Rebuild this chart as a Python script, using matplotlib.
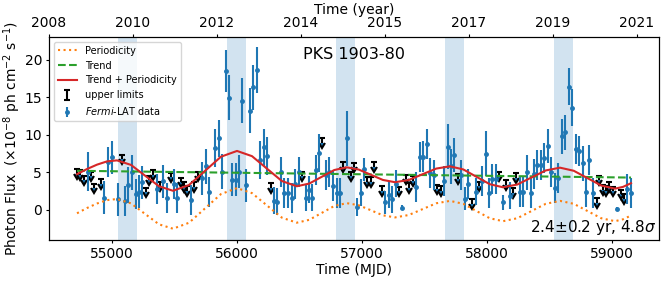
import numpy as np
import matplotlib.pyplot as plt

plt.rcParams['font.size'] = 10
plt.rcParams['xtick.major.size'] = 2.5
plt.rcParams['ytick.major.size'] = 2.5
plt.rcParams['xtick.major.pad'] = 2.5
plt.rcParams['ytick.major.pad'] = 2.5

# ---- Fermi-LAT detections (MJD, flux, 1-sigma error)
det_mjd = [54806, 54938, 54970, 55002, 55050, 55104, 55130, 55162, 55190, 55216,
           55242, 55358, 55410, 55442, 55498, 55522, 55630, 55718, 55750, 55776,
           55824, 55856, 55882, 55910, 55936, 55962, 55990, 56016, 56042, 56070,
           56104, 56130, 56158, 56184, 56216, 56242, 56296, 56322, 56352, 56378,
           56406, 56438, 56464, 56496, 56550, 56576, 56602, 56630, 56656, 56712,
           56738, 56766, 56798, 56824, 56878, 56962, 56990, 57016, 57184, 57214,
           57242, 57270, 57322, 57432, 57464, 57490, 57518, 57544, 57576, 57656,
           57686, 57712, 57738, 57792, 57824, 57850, 57910, 57962, 57990, 58016,
           58042, 58070, 58128, 58182, 58262, 58290, 58320, 58348, 58376, 58402,
           58430, 58456, 58486, 58512, 58540, 58568, 58596, 58624, 58652, 58680,
           58708, 58734, 58766, 58792, 58818, 58846, 59038, 59122, 59152]
det_flux = [5.1, 1.6, 6.4, 7.0, 1.4, 1.2, 3.3, 5.0, 2.1, 2.4,
            3.7, 2.8, 3.8, 1.6, 3.5, 1.6, 1.3, 4.2, 5.8, 2.4,
            8.2, 9.5, 5.1, 18.5, 14.9, 4.0, 4.0, 5.1, 14.5, 3.3,
            13.2, 16.3, 18.6, 6.6, 8.3, 7.2, 1.2, 1.1, 5.1, 2.2,
            2.2, 1.6, 3.5, 5.1, 1.6, 2.7, 1.6, 5.3, 7.6, 4.6,
            5.1, 3.2, 2.3, 2.3, 9.5, 0.4, 2.3, 5.4, 1.0, 2.0,
            1.4, 3.5, 0.3, 3.1, 7.0, 7.1, 8.8, 4.9, 4.6, 3.8,
            8.4, 5.8, 7.3, 4.6, 1.5, 3.4, 2.4, 3.8, 7.5, 2.2,
            4.1, 4.1, 1.0, 1.9, 2.4, 2.4, 5.0, 2.2, 4.8, 6.0,
            6.0, 6.9, 8.5, 5.0, 2.9, 4.2, 9.8, 10.3, 16.4, 13.6,
            8.1, 7.8, 6.2, 2.4, 6.6, 2.2, 0.1, 2.8, 2.2]
det_err = [2.6, 2.2, 2.0, 2.2, 2.2, 2.0, 2.4, 2.3, 2.0, 2.2,
           2.2, 2.0, 2.2, 2.0, 2.0, 2.0, 2.0, 2.2, 2.3, 2.0,
           2.5, 2.5, 2.3, 2.8, 3.0, 2.2, 2.2, 2.2, 3.0, 2.2,
           3.0, 3.0, 3.0, 2.5, 2.5, 2.5, 1.8, 1.8, 2.0, 2.0,
           2.0, 2.0, 2.0, 2.0, 1.8, 1.8, 1.8, 2.0, 2.5, 2.0,
           2.0, 2.0, 2.0, 2.0, 3.7, 1.2, 1.8, 1.5, 1.5, 1.8,
           1.8, 1.8, 0.3, 2.0, 2.0, 2.0, 2.0, 2.0, 2.0, 2.0,
           3.0, 2.3, 2.3, 2.0, 1.5, 2.0, 1.8, 2.0, 3.0, 2.0,
           2.0, 2.0, 1.0, 1.8, 2.0, 2.0, 2.3, 2.0, 2.0, 2.0,
           2.0, 2.0, 2.3, 2.0, 2.0, 2.0, 2.3, 2.3, 2.5, 2.5,
           2.0, 2.0, 2.3, 2.0, 2.0, 2.0, 0.3, 2.0, 2.0]

# ---- upper limits (MJD, flux limit)
ul_mjd = [54722, 54744, 54776, 54830, 54858, 54912, 55078, 55272, 55298, 55330,
          55384, 55470, 55550, 55576, 55602, 55658, 55686, 56270, 56522, 56682,
          56850, 56910, 56936, 57042, 57070, 57096, 57158, 57296, 57352, 57378,
          57406, 57602, 57630, 57766, 57878, 57936, 58096, 58154, 58208, 58234,
          58878, 58898, 58926, 58952, 58978, 59006, 59070, 59096]
ul_flux = [5.4, 5.25, 4.55, 5.05, 3.45, 4.05, 7.35, 2.95, 4.55, 5.25,
           3.75, 4.95, 4.25, 3.65, 3.15, 3.65, 5.05, 3.55, 5.05, 9.55,
           6.35, 5.05, 6.25, 4.35, 4.35, 6.35, 3.15, 3.05, 4.65, 3.55,
           4.5, 3.35, 3.15, 4.75, 1.45, 3.75, 5.05, 3.95, 2.85, 4.85,
           1.55, 4.55, 3.25, 3.15, 3.65, 3.05, 2.65, 2.05]

# ---- fitted model
per_mjd = [54720, 54800, 54880, 54960, 55040, 55152, 55264, 55376, 55488, 55616,
           55744, 55872, 56000, 56120, 56239, 56359, 56478, 56578, 56678, 56778,
           56878, 56974, 57071, 57167, 57264, 57374, 57484, 57594, 57704, 57810,
           57916, 58022, 58128, 58242, 58356, 58470, 58584, 58694, 58804, 58914,
           59024, 59088, 59152]
per_flux = [-0.45, 0.25, 0.85, 1.3, 1.45, 0.87, -0.53, -1.92, -2.5, -1.71,
            0.2, 2.11, 2.9, 2.23, 0.6, -1.03, -1.7, -1.32, -0.4, 0.52,
            0.9, 0.62, -0.05, -0.72, -1.0, -0.68, 0.1, 0.88, 1.2, 0.81,
            -0.15, -1.11, -1.5, -1.11, -0.15, 0.81, 1.2, 0.81, -0.15, -1.11,
            -1.5, -1.25, -0.75]
trend_mjd = [54720, 59152]
trend_flux = [5.2, 4.3]

# high-flux epochs
band_start = [55048, 55920, 56792, 57664, 58536]
band_end = [55200, 56072, 56944, 57816, 58688]

year_tick_mjd = [54496, 55168, 55840, 56512, 57184, 57856, 58528, 59200]
year_labels = ['2008', '2010', '2012', '2014', '2015', '2017', '2019', '2021']

fig = plt.figure(figsize=(6.64, 2.82), dpi=100)
ax = fig.add_axes([0.0738, 0.149, 0.9187, 0.72])

for s, e in zip(band_start, band_end):
    ax.axvspan(s, e, color='C0', alpha=0.2, lw=0)

tot_flux = np.array(per_flux) + np.interp(per_mjd, trend_mjd, trend_flux)
l1, = ax.plot(per_mjd, per_flux, ':', color='C1', lw=1.5, zorder=4, label='Periodicity')
l2, = ax.plot(trend_mjd, trend_flux, '--', color='C2', lw=1.5, zorder=4, label='Trend')
l3, = ax.plot(per_mjd, tot_flux, '-', color='C3', lw=1.5, zorder=4, label='Trend + Periodicity')

ul = ax.errorbar(ul_mjd, ul_flux, yerr=0.6, uplims=True, fmt='none', ecolor='k',
                 elinewidth=1.5, capsize=2.5, capthick=1.5, label='upper limits')
dt = ax.errorbar(det_mjd, det_flux, yerr=det_err, fmt='o', color='C0', ms=2.5,
                 elinewidth=1.5, capsize=0, label=r'$\it{Fermi}$-LAT data')

ax.set_xlim(54496, 59376)
ax.set_ylim(-4, 23)
ax.set_yticks([0, 5, 10, 15, 20])
ax.set_xticks([55000, 56000, 57000, 58000, 59000])
ax.set_xlabel('Time (MJD)', labelpad=1.5)
ax.set_ylabel(r'Photon Flux  ($\times10^{-8}$ ph cm$^{-2}$ s$^{-1}$)', labelpad=1)

ax.text(0.5, 0.95, 'PKS 1903-80', transform=ax.transAxes, ha='center', va='top', fontsize=11.5)
ax.text(0.995, 0.015, r'2.4$\pm$0.2 yr, 4.8$\sigma$', transform=ax.transAxes,
        ha='right', va='bottom', fontsize=11)

ax.legend(handles=[l1, l2, l3, ul, dt], loc='upper left', fontsize=7)

ax2 = ax.twiny()
ax2.set_xlim(ax.get_xlim())
ax2.set_xticks(year_tick_mjd)
ax2.set_xticklabels(year_labels)
ax2.set_xlabel('Time (year)', labelpad=1.5)

fig.savefig('out.png', dpi=100)
